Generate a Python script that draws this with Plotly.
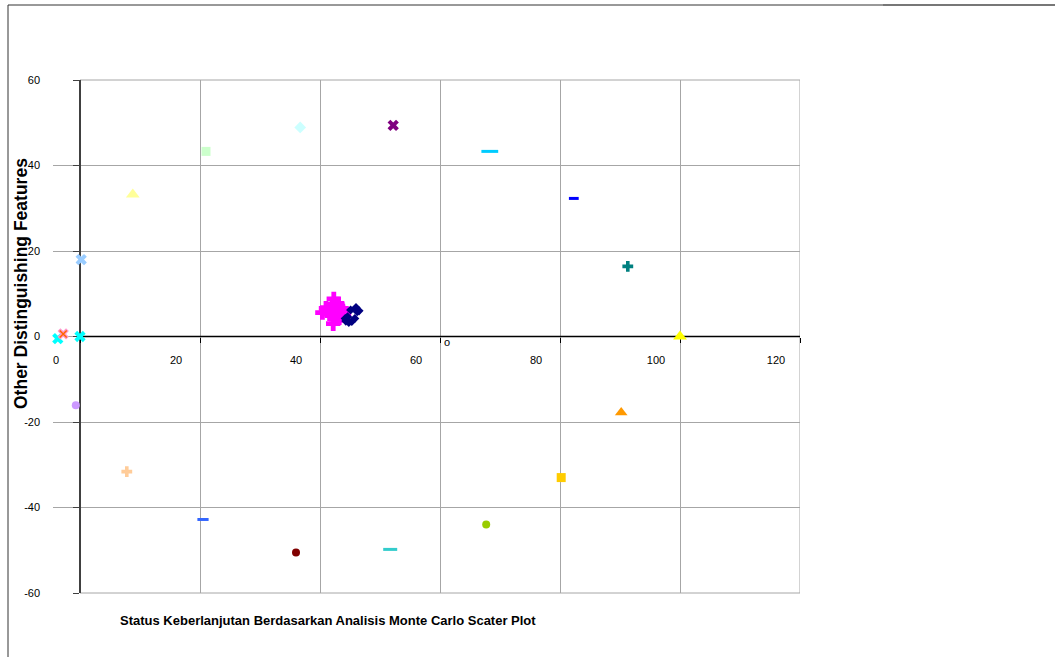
import plotly.graph_objects as go

# Reference / anchor points (x, y), colours and symbols
ref_names = ["bad1", "bad2", "pink", "up_left", "down_left", "peach", "lt_yellow",
             "lt_green", "blue_dash1", "lt_cyan", "dark_red", "purple", "teal_dash",
             "cyan_dash", "ygreen", "blue_dash2", "gold", "teal_plus", "orange", "good"]
ref_x = [0.0, -3.7, -2.8, 0.2, -0.7, 7.8, 8.8, 21.0, 20.5, 36.7, 36.0, 52.2, 51.7,
         68.3, 67.7, 82.3, 80.2, 91.3, 90.2, 100.0]
ref_y = [0.0, -0.5, 0.6, 18.0, -16.1, -31.6, 33.2, 43.3, -42.8, 48.9, -50.5, 49.4, -49.8,
         43.3, -44.0, 32.3, -33.0, 16.4, -17.8, 0.0]
ref_color = ["#00FFFF", "#00FFFF", "#FF99CC", "#99CCFF", "#CC99FF", "#FFCC99", "#FFFF99",
             "#CCFFCC", "#3366FF", "#CCFFFF", "#800000", "#800080", "#33CCCC",
             "#00CCFF", "#99CC00", "#0000FF", "#FFCC00", "#008080", "#FF9900", "#FFFF00"]
ref_symbol = ["x", "x", "x", "x", "circle", "cross", "triangle-up", "square", "line-ew",
              "diamond", "circle", "x", "line-ew", "line-ew", "circle", "line-ew", "square",
              "cross", "triangle-up", "triangle-up"]
ref_size = [10, 10, 10, 10, 8, 9, 12, 9, 8, 9, 8, 10, 10, 12, 8, 7, 9, 9, 11, 12]

# Monte Carlo cluster
mc_x = [40.4, 41.0, 41.2, 41.8, 42.0, 42.3, 42.5, 42.8, 43.0, 43.3, 43.5, 43.8, 44.0, 42.2,
        41.6, 42.9, 43.6, 42.4, 41.9, 43.2, 42.1, 42.7]
mc_y = [5.6, 6.6, 6.0, 5.5, 7.0, 8.8, 6.3, 5.0, 6.8, 5.8, 4.9, 6.0, 5.3, 3.0, 6.4, 7.6, 6.6,
        4.2, 5.2, 4.4, 5.9, 6.1]
sust_x = [44.3, 44.8, 45.3, 45.8, 46.2, 45.1, 44.6, 46.0, 46.5, 44.2]
sust_y = [3.6, 3.3, 3.5, 4.2, 5.8, 6.2, 4.6, 6.8, 6.0, 4.2]

x_ticks = [0, 20, 40, 60, 80, 100, 120]
y_ticks = [-60, -40, -20, 0, 20, 40, 60]

X_MIN, X_MAX = -4.5, 120

fig = go.Figure()

for i in range(len(ref_x)):
    sym = ref_symbol[i]
    if sym == "line-ew":
        marker = dict(symbol=sym, size=ref_size[i], line=dict(color=ref_color[i], width=3))
    else:
        marker = dict(symbol=sym, size=ref_size[i], color=ref_color[i], line=dict(width=0))
    fig.add_trace(go.Scatter(x=[ref_x[i]], y=[ref_y[i]], mode="markers", marker=marker,
                             name=ref_names[i], showlegend=False, cliponaxis=False))

# orange overlay on pink marker
fig.add_trace(go.Scatter(x=[ref_x[2]], y=[ref_y[2]], mode="markers", showlegend=False,
                         marker=dict(symbol="x-thin", size=7, line=dict(color="#FF6600", width=1.5)),
                         cliponaxis=False))

fig.add_trace(go.Scatter(x=mc_x, y=mc_y, mode="markers", showlegend=False,
                         marker=dict(symbol="cross", size=12, color="#FF00FF", line=dict(width=0))))
fig.add_trace(go.Scatter(x=sust_x, y=sust_y, mode="markers", showlegend=False,
                         marker=dict(symbol="diamond", size=7, color="#000080", line=dict(width=0))))

L, R, T, B = 53, 255, 80, 64
W, H = 1055, 657
pw, ph = W - L - R, H - T - B

def px(xp):
    return (xp - L) / pw

def py(yp):
    return (H - B - yp) / ph

yaxis_pos = (0 - X_MIN) / (X_MAX - X_MIN)

tf = dict(family="Liberation Sans, Arial, sans-serif", size=11, color="black")

fig.update_layout(
    width=W, height=H,
    margin=dict(l=L, r=R, t=T, b=B),
    paper_bgcolor="white", plot_bgcolor="white",
    font=dict(family="Liberation Sans, Arial, sans-serif", size=11, color="black"),
    xaxis=dict(range=[X_MIN, X_MAX], tickvals=x_ticks, ticktext=[str(v) for v in x_ticks],
               showgrid=True, gridcolor="#A6A6A6", gridwidth=1, zeroline=False,
               showline=False,
               ticks="outside", ticklen=5, tickcolor="#000000", tickwidth=1,
               anchor="free", position=0.5, ticklabelshift=-24, ticklabelstandoff=8,
               tickfont=tf, layer="below traces"),
    yaxis=dict(range=[-60, 60], tickvals=y_ticks, ticktext=[str(v) for v in y_ticks],
               showgrid=True, gridcolor="#A6A6A6", gridwidth=1, zeroline=False,
               showline=True, linecolor="#404040", linewidth=1.5,
               ticks="outside", ticklen=6, tickcolor="#404040", tickwidth=1,
               anchor="free", position=yaxis_pos,
               ticklabelstandoff=31, tickfont=tf, layer="below traces"),
    shapes=[
        # hide gridlines left of the value axis
        dict(type="rect", xref="x", yref="paper", x0=X_MIN, x1=-0.05, y0=-0.01, y1=1.01,
             fillcolor="white", line=dict(width=0), layer="between"),
        # plot area border
        dict(type="rect", xref="x", yref="paper", x0=0, x1=120, y0=0, y1=1,
             line=dict(color="#A6A6A6", width=1), layer="between"),
        # horizontal axis line at y = 0
        dict(type="line", xref="x", yref="y", x0=0, x1=120, y0=0, y1=0,
             line=dict(color="#000000", width=1.5), layer="between"),
        # outer frame
        dict(type="line", xref="paper", yref="paper", x0=px(8), x1=px(883), y0=py(5), y1=py(5),
             line=dict(color="#333333", width=1)),
        dict(type="line", xref="paper", yref="paper", x0=px(883), x1=px(1055), y0=py(5), y1=py(5),
             line=dict(color="#777777", width=2)),
        dict(type="line", xref="paper", yref="paper", x0=px(8), x1=px(8), y0=py(5), y1=py(657),
             line=dict(color="#333333", width=1)),
    ],
    annotations=[
        dict(text="<b>Other Distinguishing Features</b>", xref="paper", yref="paper",
             x=px(21), y=py(284), textangle=-90, showarrow=False,
             xanchor="center", yanchor="middle", font=dict(size=17.5, color="black")),
        dict(text="<b>Status Keberlanjutan Berdasarkan Analisis Monte Carlo Scater Plot</b>",
             xref="paper", yref="paper", x=px(328), y=py(620), showarrow=False,
             xanchor="center", yanchor="middle", font=dict(size=13, color="black")),
        dict(text="o", xref="x", yref="y", x=61.2, y=-1.3, showarrow=False,
             xanchor="center", yanchor="middle", font=dict(size=11, color="black")),
    ],
)

fig.write_html("out.html", config={"displayModeBar": False},
               post_script="document.body.style.margin='0px';")
